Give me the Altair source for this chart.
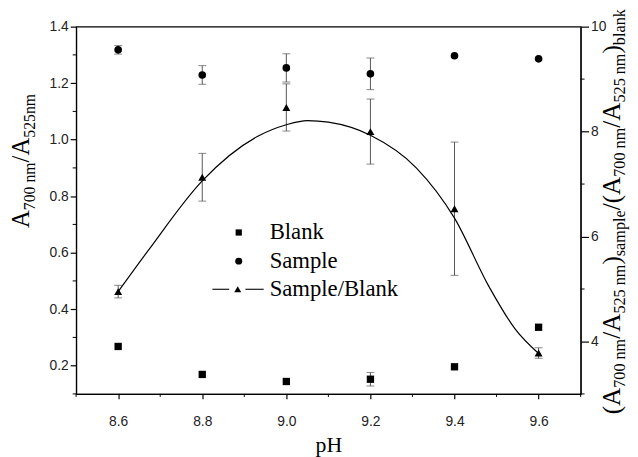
import altair as alt
import pandas as pd

# ---------------- data ----------------
ph = [8.6, 8.8, 9.0, 9.2, 9.4, 9.6]
blank = [0.268, 0.169, 0.144, 0.152, 0.196, 0.336]
blank_err = [0.0, 0.0, 0.0, 0.024, 0.0, 0.0]
sample = [1.318, 1.229, 1.254, 1.233, 1.297, 1.286]
sample_err = [0.015, 0.033, 0.05, 0.056, 0.0, 0.0]
ratio = [4.95, 7.13, 8.46, 8.0, 6.53, 3.78]
ratio_err = [0.12, 0.455, 0.45, 0.62, 1.27, 0.1]

# fitted curve
curve_x = [8.6, 8.673, 8.8, 8.932, 9.0, 9.05, 9.1, 9.2, 9.309, 9.4, 9.481, 9.544, 9.6]
curve_y = [4.95, 5.75, 7.06, 7.91, 8.13, 8.21, 8.18, 7.93, 7.31, 6.35, 5.06, 4.24, 3.77]

x_ticks = [8.6, 8.8, 9.0, 9.2, 9.4, 9.6]
x_minor = [8.5, 8.7, 8.9, 9.1, 9.3, 9.5, 9.7]
yl_ticks = [0.2, 0.4, 0.6, 0.8, 1.0, 1.2, 1.4]
yl_minor = [0.1, 0.3, 0.5, 0.7, 0.9, 1.1, 1.3]
yr_ticks = [4, 6, 8, 10]
yr_minor = [3, 5, 7, 9]

legend_labels = ["Blank", "Sample", "Sample/Blank"]

# ---------------- layout ----------------
W, H = 511, 372
SERIF = "Liberation Serif"
SANS = "Liberation Sans"
ERR = "#555555"

df = pd.DataFrame({"ph": ph, "blank": blank, "berr": blank_err,
                   "sample": sample, "serr": sample_err,
                   "ratio": ratio, "rerr": ratio_err})
df["b_lo"] = df.blank - df.berr
df["b_hi"] = df.blank + df.berr
df["s_lo"] = df["sample"] - df.serr
df["s_hi"] = df["sample"] + df.serr
df["r_lo"] = df.ratio - df.rerr
df["r_hi"] = df.ratio + df.rerr

curve = pd.DataFrame({"ph": curve_x, "ratio": curve_y})

x_scale = alt.Scale(domain=[8.5, 9.7], nice=False, zero=False)
x_axis = alt.Axis(values=x_ticks, format=".1f", title="pH", grid=False,
                  tickSize=5, tickColor="black", domainColor="black",
                  labelFont=SANS, labelFontSize=14, labelColor="#222",
                  labelPadding=16, titleFont=SERIF, titleFontSize=22,
                  titleFontWeight="normal", titleColor="black", titlePadding=6)
yl_scale = alt.Scale(domain=[0.1, 1.4], nice=False, zero=False)
yl_axis = alt.Axis(values=yl_ticks, format=".1f", title=None, grid=False,
                   tickSize=6, tickColor="black", domainColor="black",
                   labelFont=SANS, labelFontSize=14, labelColor="#222",
                   labelPadding=2, orient="left")
yr_scale = alt.Scale(domain=[3, 10], nice=False, zero=False)
yr_axis = alt.Axis(values=yr_ticks, format="d", title=None, grid=False,
                   tickSize=8, tickColor="black", domainColor="black",
                   labelFont=SANS, labelFontSize=14, labelColor="#222",
                   labelPadding=2, orient="right")


def X(field):
    return alt.X(f"{field}:Q", scale=x_scale, axis=x_axis)


def YL(field):
    return alt.Y(f"{field}:Q", scale=yl_scale, axis=yl_axis)


def YR(field):
    return alt.Y(f"{field}:Q", scale=yr_scale, axis=yr_axis)


base = alt.Chart(df)

# minor ticks
xm = alt.Chart(pd.DataFrame({"v": x_minor})).mark_rule(color="black").encode(
    x=X("v"), y=alt.value(H), y2=alt.value(H + 3))
ylm = alt.Chart(pd.DataFrame({"v": yl_minor})).mark_rule(color="black").encode(
    y=YL("v"), x=alt.value(-3.5), x2=alt.value(0))
yrm = alt.Chart(pd.DataFrame({"v": yr_minor})).mark_rule(color="black").encode(
    y=YR("v"), x=alt.value(W), x2=alt.value(W + 4))


def errbars(lo, hi, err, Y):
    b = base.transform_filter(f"datum.{err} > 0")
    rule = b.mark_rule(color=ERR, strokeWidth=1).encode(x=X("ph"), y=Y(lo), y2=alt.Y2(hi))
    cap1 = b.mark_tick(color=ERR, orient="horizontal", size=8, thickness=1).encode(x=X("ph"), y=Y(lo))
    cap2 = b.mark_tick(color=ERR, orient="horizontal", size=8, thickness=1).encode(x=X("ph"), y=Y(hi))
    return [rule, cap1, cap2]


blank_pts = base.mark_point(shape="square", filled=True, color="black", size=55, opacity=1).encode(
    x=X("ph"), y=YL("blank"))
sample_pts = base.mark_point(shape="circle", filled=True, color="black", size=60, opacity=1).encode(
    x=X("ph"), y=YL("sample"))

left = alt.layer(xm, ylm, *errbars("b_lo", "b_hi", "berr", YL), blank_pts,
                 *errbars("s_lo", "s_hi", "serr", YL), sample_pts)

curve_line = alt.Chart(curve).mark_line(color="black", strokeWidth=1.2, interpolate="monotone").encode(
    x=X("ph"), y=YR("ratio"))
tri_pts = base.mark_point(shape="triangle-up", filled=True, color="black", size=65, opacity=1).encode(
    x=X("ph"), y=YR("ratio"))
right = alt.layer(yrm, *errbars("r_lo", "r_hi", "rerr", YR), curve_line, tri_pts)

# ---------------- legend (drawn) ----------------
one = alt.Data(values=[{"k": 1}])
deco = []
leg_x, leg_tx = 164.7, 196
leg_y = [208.5, 237.5, 266]
deco.append(alt.Chart(one).mark_point(shape="square", filled=True, color="black", size=40, opacity=1).encode(
    x=alt.value(leg_x), y=alt.value(leg_y[0])))
deco.append(alt.Chart(one).mark_point(shape="circle", filled=True, color="black", size=50, opacity=1).encode(
    x=alt.value(leg_x), y=alt.value(leg_y[1])))
deco.append(alt.Chart(one).mark_rule(color="black", strokeWidth=1.1).encode(
    x=alt.value(138), x2=alt.value(155), y=alt.value(leg_y[2])))
deco.append(alt.Chart(one).mark_rule(color="black", strokeWidth=1.1).encode(
    x=alt.value(171.5), x2=alt.value(190), y=alt.value(leg_y[2])))
deco.append(alt.Chart(one).mark_point(shape="triangle-up", filled=True, color="black", size=50, opacity=1).encode(
    x=alt.value(163.7), y=alt.value(leg_y[2])))
for lab, yy in zip(legend_labels, leg_y):
    deco.append(alt.Chart(one).mark_text(font=SERIF, fontSize=23, align="left", baseline="middle",
                                         color="black").encode(
        x=alt.value(leg_tx), y=alt.value(yy), text=alt.value(lab)))

# ---------------- rotated axis titles with subscripts ----------------
CW = {' ': 250, '(': 333, ')': 333, '/': 278, '0': 500, '2': 500, '5': 500, '7': 500,
      'A': 722, 'a': 444, 'b': 500, 'e': 444, 'k': 500, 'l': 278, 'm': 778, 'n': 500,
      'p': 500, 's': 389}


def tw(s, size):
    return sum(CW[c] for c in s) / 1000.0 * size


def rotated_title(pieces, x_main, x_sub, y_center, main, sub):
    sizes = [main if k == "m" else sub for _, k in pieces]
    total = sum(tw(s, z) for (s, _), z in zip(pieces, sizes))
    y = y_center + total / 2.0
    out = []
    for (s, k), z in zip(pieces, sizes):
        out.append(alt.Chart(one).mark_text(font=SERIF, fontSize=z, angle=270, align="left",
                                            baseline="alphabetic", color="black").encode(
            x=alt.value(x_main if k == "m" else x_sub), y=alt.value(y), text=alt.value(s)))
        y -= tw(s, z)
    return out


left_title = [("A", "m"), ("700 nm", "s"), ("/A", "m"), ("525nm", "s")]
right_title = [("(", "m"), ("A", "m"), ("700 nm", "s"), ("/", "m"), ("A", "m"), ("525 nm", "s"),
               (")", "m"), ("sample", "s"), ("/(", "m"), ("A", "m"), ("700 nm", "s"), ("/A", "m"),
               ("525 nm", "s"), (")", "m"), ("blank", "s")]

deco += rotated_title(left_title, -48, -42, 136, 25, 16)
deco += rotated_title(right_title, 551, 556, 187.5, 25.5, 16.4)

chart = alt.layer(left, right, *deco).resolve_scale(y="independent").properties(
    width=W, height=H,
    autosize=alt.AutoSizeParams(type="none"),
    padding={"left": 69, "top": 16, "right": 50, "bottom": 61},
).configure_view(stroke="black", strokeWidth=1.2).configure_axis(domainWidth=1.2, tickWidth=1.2)

chart.save("out.html", embed_options={"renderer": "svg", "actions": False})
